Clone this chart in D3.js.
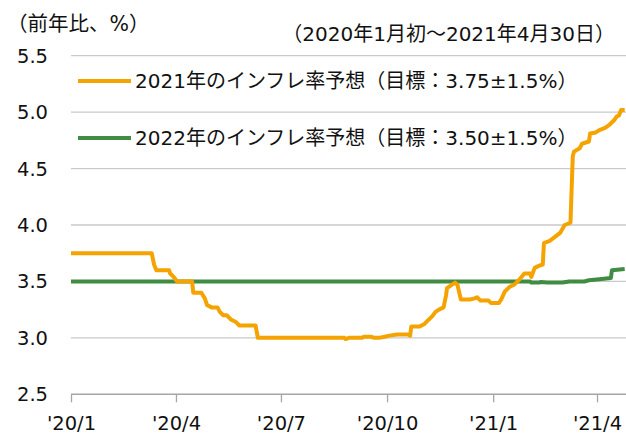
<!DOCTYPE html>
<html>
<head>
<meta charset="utf-8">
<script src="https://cdn.jsdelivr.net/npm/d3@7"></script>
<style>
  body { margin: 0; background: #fff; }
  svg text { font-family: "DejaVu Sans", "Noto Sans CJK JP", sans-serif; fill: #111; }
</style>
</head>
<body>
<div id="chart"></div>
<script>
// series: 2021 inflation expectation (orange)
var orangeDates = ['2020-01-01','2020-03-11','2020-03-13','2020-03-15','2020-03-26','2020-03-27','2020-03-30','2020-04-02','2020-04-15','2020-04-16','2020-04-23','2020-04-26','2020-04-28','2020-05-02','2020-05-07','2020-05-09','2020-05-12','2020-05-15','2020-05-19','2020-05-23','2020-05-26','2020-06-09','2020-06-11','2020-08-25','2020-08-26','2020-08-29','2020-09-09','2020-09-11','2020-09-17','2020-09-20','2020-09-24','2020-09-29','2020-10-03','2020-10-10','2020-10-19','2020-10-21','2020-10-22','2020-10-29','2020-11-02','2020-11-05','2020-11-09','2020-11-12','2020-11-15','2020-11-19','2020-11-21','2020-11-22','2020-11-26','2020-11-29','2020-12-01','2020-12-04','2020-12-12','2020-12-16','2020-12-18','2020-12-21','2020-12-28','2020-12-30','2021-01-06','2021-01-08','2021-01-11','2021-01-15','2021-01-19','2021-01-24','2021-01-28','2021-02-02','2021-02-03','2021-02-06','2021-02-10','2021-02-13','2021-02-14','2021-02-19','2021-02-23','2021-02-28','2021-03-04','2021-03-09','2021-03-11','2021-03-12','2021-03-17','2021-03-19','2021-03-25','2021-03-26','2021-03-31','2021-04-03','2021-04-08','2021-04-12','2021-04-16','2021-04-18','2021-04-20','2021-04-22','2021-04-25'];
var orangeValues = [3.75,3.75,3.65,3.60,3.60,3.57,3.54,3.50,3.50,3.40,3.40,3.35,3.29,3.27,3.27,3.23,3.20,3.20,3.16,3.14,3.11,3.11,3.00,3.00,2.99,3.00,3.00,3.01,3.01,3.00,3.00,3.01,3.02,3.03,3.03,3.02,3.10,3.10,3.12,3.15,3.19,3.23,3.25,3.27,3.37,3.44,3.47,3.49,3.47,3.34,3.34,3.35,3.36,3.33,3.33,3.31,3.31,3.34,3.41,3.45,3.47,3.52,3.57,3.57,3.54,3.62,3.64,3.65,3.84,3.86,3.89,3.93,4.00,4.02,4.61,4.65,4.68,4.72,4.74,4.81,4.82,4.84,4.86,4.89,4.93,4.96,4.97,5.02,5.02];

// series: 2022 inflation expectation (green)
var greenDates = ['2020-01-01','2021-02-02','2021-02-03','2021-02-10','2021-02-11','2021-02-17','2021-02-18','2021-03-02','2021-03-08','2021-03-21','2021-03-25','2021-04-03','2021-04-13','2021-04-14','2021-04-25'];
var greenValues = [3.50,3.50,3.49,3.49,3.495,3.49,3.49,3.49,3.50,3.50,3.51,3.52,3.53,3.60,3.61];

var legendLabels = ['2021年のインフレ率予想（目標：3.75±1.5%）', '2022年のインフレ率予想（目標：3.50±1.5%）'];
var yTicks = [2.5, 3.0, 3.5, 4.0, 4.5, 5.0, 5.5];
var xTickDates = ['2020-01-01','2020-04-01','2020-07-01','2020-10-01','2021-01-01','2021-04-01'];
var xTickLabels = ["'20/1", "'20/4", "'20/7", "'20/10", "'21/1", "'21/4"];

var $orange = '#f5a300';
var $green = '#3f8c42';

var width = 626, height = 435;
var parse = d3.timeParse('%Y-%m-%d');

var svg = d3.select('#chart').append('svg')
    .attr('width', width)
    .attr('height', height);

var x = d3.scaleTime()
    .domain([parse('2020-01-01'), parse('2021-04-01')])
    .range([71, 597]);

var y = d3.scaleLinear()
    .domain([2.5, 5.5])
    .range([394.3, 55.7]);

//gridlines
svg.append('g').selectAll('line')
    .data(yTicks.filter(function(d) { return d > 2.5; }))
    .enter().append('line')
    .attr('x1', 71).attr('x2', width)
    .attr('y1', function(d) { return y(d); })
    .attr('y2', function(d) { return y(d); })
    .attr('stroke', '#c9c9c9')
    .attr('stroke-width', 1.3);

//y labels
svg.append('g').selectAll('text')
    .data(yTicks)
    .enter().append('text')
    .attr('x', 48)
    .attr('y', function(d) { return y(d); })
    .attr('dy', '0.36em')
    .attr('text-anchor', 'end')
    .style('font-size', '19.5px')
    .text(function(d) { return d3.format('.1f')(d); });

//x axis
var xAxis = d3.axisBottom(x)
    .tickValues(xTickDates.map(parse))
    .tickFormat(function(d, i) { return xTickLabels[i]; })
    .tickSizeInner(8)
    .tickSizeOuter(0)
    .tickPadding(14);

var gx = svg.append('g')
    .attr('transform', 'translate(0,' + y(2.5) + ')')
    .call(xAxis);
gx.select('.domain').attr('stroke', '#a6a6a6').attr('stroke-width', 1.5)
    .attr('d', 'M71,0H' + width);
gx.selectAll('.tick line').attr('stroke', '#a6a6a6').attr('stroke-width', 1.3);
gx.selectAll('.tick text')
    .style('font-size', '19.5px')
    .style('font-family', '"DejaVu Sans", "Noto Sans CJK JP", sans-serif')
    .attr('fill', '#111');

//lines
var line = d3.line()
    .x(function(d) { return x(d.date); })
    .y(function(d) { return y(d.value); });

function series(dates, values) {
    return dates.map(function(d, i) { return {date: parse(d), value: values[i]}; });
}

svg.append('path')
    .datum(series(greenDates, greenValues))
    .attr('d', line)
    .attr('fill', 'none')
    .attr('stroke', $green)
    .attr('stroke-width', 4)
    .attr('stroke-linejoin', 'round');

svg.append('path')
    .datum(series(orangeDates, orangeValues))
    .attr('d', line)
    .attr('fill', 'none')
    .attr('stroke', $orange)
    .attr('stroke-width', 4)
    .attr('stroke-linejoin', 'round');

//legend
var legend = svg.append('g').selectAll('g')
    .data(legendLabels)
    .enter().append('g')
    .attr('transform', function(d, i) { return 'translate(0,' + (81 + i * 57) + ')'; });

legend.append('line')
    .attr('x1', 78).attr('x2', 131)
    .attr('y1', 0).attr('y2', 0)
    .attr('stroke', function(d, i) { return i === 0 ? $orange : $green; })
    .attr('stroke-width', 4);

legend.append('text')
    .attr('x', 135)
    .attr('y', 0)
    .attr('dy', '0.36em')
    .style('font-size', '20px')
    .text(function(d) { return d; });

//titles
svg.append('text')
    .attr('x', 7).attr('y', 24)
    .attr('dy', '0.36em')
    .style('font-size', '20.5px')
    .text('（前年比、%）');

svg.append('text')
    .attr('x', 615).attr('y', 34)
    .attr('dy', '0.36em')
    .attr('text-anchor', 'end')
    .style('font-size', '20px')
    .text('（2020年1月初～2021年4月30日）');
</script>
</body>
</html>
